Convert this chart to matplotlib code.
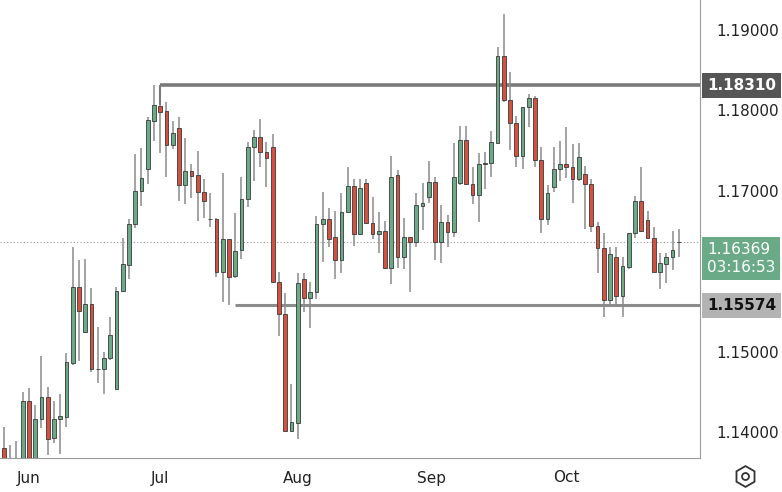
import numpy as np
import matplotlib
matplotlib.use("Agg")
import matplotlib.pyplot as plt
from matplotlib.patches import Rectangle

# daily OHLC
opens = [1.13797, 1.1362, 1.1360, 1.1366, 1.14385, 1.1368, 1.14162, 1.14435, 1.13929, 1.14162,
         1.14191, 1.14862, 1.15799, 1.15248, 1.15592, 1.14787, 1.14779, 1.14924, 1.14531, 1.15749,
         1.16077, 1.16583, 1.16997, 1.17271, 1.17872, 1.18059, 1.17992, 1.17570, 1.17777, 1.17072,
         1.17246, 1.17196, 1.16989, 1.16645, 1.16645, 1.15994, 1.16396, 1.15940, 1.16264, 1.16894,
         1.17541, 1.17665, 1.17478, 1.17549, 1.15870, 1.15463, 1.14016, 1.14116, 1.15899, 1.15671,
         1.15737, 1.16583, 1.16645, 1.16421, 1.16139, 1.16732, 1.17060, 1.16463, 1.17101, 1.16595,
         1.16458, 1.16504, 1.16044, 1.17196, 1.16172, 1.16421, 1.16367, 1.16815, 1.16919, 1.17113,
         1.16359, 1.16608, 1.16492, 1.17093, 1.17632, 1.17081, 1.16948, 1.17330, 1.17342, 1.17599,
         1.18681, 1.18130, 1.17848, 1.17437, 1.18038, 1.18150, 1.17383, 1.16645, 1.17052, 1.17267,
         1.17329, 1.17300, 1.17143, 1.17209, 1.17081, 1.16562, 1.16285, 1.15642, 1.16181, 1.15696,
         1.16048, 1.16471, 1.16873, 1.16637, 1.16409, 1.15986, 1.16090, 1.16173, 1.16360]
closes = [1.1365, 1.1366, 1.1366, 1.14385, 1.1366, 1.14162, 1.14435, 1.13913, 1.14162, 1.14199,
          1.14866, 1.15799, 1.15509, 1.15592, 1.14779, 1.14779, 1.14924, 1.15206, 1.15758, 1.16085,
          1.16587, 1.16997, 1.17163, 1.17876, 1.18067, 1.17984, 1.17570, 1.17715, 1.17072, 1.17246,
          1.17188, 1.16989, 1.16877, 1.16650, 1.15994, 1.16396, 1.15932, 1.16251, 1.16894, 1.17549,
          1.17665, 1.17478, 1.17404, 1.15870, 1.15463, 1.14016, 1.14120, 1.15849, 1.15671, 1.15745,
          1.16587, 1.16645, 1.16396, 1.16139, 1.16740, 1.17060, 1.16463, 1.17039, 1.16595, 1.16458,
          1.16504, 1.16036, 1.17176, 1.16172, 1.16421, 1.16367, 1.16823, 1.16844, 1.17113, 1.16359,
          1.16608, 1.16492, 1.17176, 1.17632, 1.17081, 1.16948, 1.17334, 1.17350, 1.17603, 1.18681,
          1.18130, 1.17848, 1.17437, 1.18038, 1.18150, 1.17383, 1.16645, 1.16969, 1.17267, 1.17329,
          1.17300, 1.17143, 1.17425, 1.17081, 1.16562, 1.16285, 1.15642, 1.16214, 1.15696, 1.16065,
          1.16471, 1.16873, 1.16504, 1.16409, 1.15986, 1.16098, 1.16181, 1.16264, 1.16369]
highs = [1.14066, 1.13838, 1.13892, 1.14493, 1.14543, 1.14336, 1.14949, 1.14564, 1.14390, 1.14472,
         1.14978, 1.16305, 1.16139, 1.16147, 1.15787, 1.15302, 1.14999, 1.15434, 1.15808, 1.16409,
         1.16645, 1.17458, 1.17536, 1.17914, 1.18310, 1.18067, 1.18108, 1.17872, 1.17914, 1.17652,
         1.17329, 1.17499, 1.17143, 1.16968, 1.16657, 1.17217, 1.16396, 1.16720, 1.17167, 1.17611,
         1.17756, 1.17889, 1.17611, 1.17702, 1.15986, 1.15725, 1.14597, 1.15973, 1.15973, 1.15870,
         1.16686, 1.16989, 1.16790, 1.16749, 1.16968, 1.17300, 1.17147, 1.17147, 1.17147, 1.16927,
         1.16740, 1.16624, 1.17433, 1.17259, 1.16657, 1.16421, 1.16968, 1.17093, 1.17371, 1.17176,
         1.16823, 1.16699, 1.17599, 1.17806, 1.17806, 1.17300, 1.17466, 1.17479, 1.17748, 1.18785,
         1.19199, 1.18482, 1.17931, 1.18038, 1.18204, 1.18179, 1.17549, 1.17072, 1.17549, 1.17620,
         1.17790, 1.17582, 1.17591, 1.17309, 1.17143, 1.16616, 1.16479, 1.16297, 1.16297, 1.16181,
         1.16471, 1.16935, 1.17292, 1.16753, 1.16554, 1.16231, 1.16231, 1.16500, 1.16521]
lows = [1.1360, 1.1355, 1.1350, 1.1360, 1.1358, 1.1362, 1.14045, 1.13714, 1.13859, 1.13726,
        1.14058, 1.14833, 1.14887, 1.15235, 1.14750, 1.14605, 1.14468, 1.14895, 1.14531, 1.15741,
        1.15899, 1.16541, 1.16811, 1.17084, 1.17623, 1.17474, 1.17176, 1.17516, 1.16877, 1.16832,
        1.16906, 1.16628, 1.16657, 1.16554, 1.15924, 1.15621, 1.15574, 1.15911, 1.16147, 1.16794,
        1.17122, 1.17300, 1.17043, 1.15870, 1.15194, 1.14016, 1.14016, 1.13913, 1.15497, 1.15289,
        1.15650, 1.16118, 1.16305, 1.15903, 1.15982, 1.16732, 1.16317, 1.16463, 1.16587, 1.16400,
        1.16222, 1.16027, 1.15837, 1.16036, 1.16023, 1.15745, 1.16297, 1.16512, 1.16844, 1.16139,
        1.16098, 1.16305, 1.16429, 1.17072, 1.17072, 1.16832, 1.16608, 1.17018, 1.17168, 1.17591,
        1.18109, 1.17508, 1.17300, 1.17271, 1.17790, 1.17300, 1.16471, 1.16575, 1.16989, 1.17126,
        1.17155, 1.16844, 1.17126, 1.16525, 1.16484, 1.15982, 1.15435, 1.15580, 1.15580, 1.15435,
        1.16023, 1.16409, 1.16492, 1.16397, 1.15986, 1.15775, 1.15858, 1.16015, 1.16181]

month_labels = ["Jun", "Jul", "Aug", "Sep", "Oct"]
month_pos = [4, 25, 47, 68.5, 90]
price_ticks = [1.14, 1.15, 1.16, 1.17, 1.18, 1.19]
resistance, res_start = 1.18310, 25
support, sup_start = 1.15574, 37
last_price = 1.16369
countdown = "03:16:53"

GREEN, RED = "#6aaa86", "#d4503f"
fig = plt.figure(figsize=(7.82, 4.92), dpi=100)
ax = fig.add_axes([0, 1 - 458 / 492, 700 / 782, 458 / 492])
n = len(opens)
x = np.arange(n)
for i in range(n):
    o, c = opens[i], closes[i]
    col = GREEN if c >= o else RED
    ax.vlines(x[i], lows[i], highs[i], color="#8a8a8a", lw=1.1, zorder=2)
    ax.add_patch(Rectangle((x[i] - 0.3, min(o, c)), 0.6, max(abs(c - o), 0.00004),
                           facecolor=col, edgecolor="#3a3a3a", lw=0.6, zorder=3))

xmax = 111.4
ax.hlines(resistance, res_start, xmax, color="#7a7a7a", lw=2.6, zorder=1)
ax.vlines(res_start, highs[res_start], resistance, color="#7a7a7a", lw=1.5)
ax.hlines(support, sup_start, xmax, color="#8c8c8c", lw=2.2, zorder=1)
ax.axhline(last_price, color="#9a9a9a", lw=0.8, ls=(0, (1, 2)), zorder=0)

ax.set_xlim(-0.64, xmax)
ax.set_ylim(1.13677, 1.19373)
ax.set_xticks(month_pos)
ax.set_xticklabels(month_labels, fontsize=11, color="#222")
ax.yaxis.tick_right()
ax.set_yticks(price_ticks)
ax.set_yticklabels([f"{p:.5f}" for p in price_ticks], fontsize=11, color="#222")
ax.tick_params(axis="y", length=0, pad=12)
ax.tick_params(axis="x", length=0, pad=9)
for s in ["top", "left"]:
    ax.spines[s].set_visible(False)
for s in ["bottom", "right"]:
    ax.spines[s].set_color("#9a9a9a")

tr = ax.get_yaxis_transform()
box = dict(boxstyle="square,pad=0.3", lw=0)
ax.text(1.01, resistance, f"{resistance:.5f}", transform=tr, va="center", ha="left",
        fontsize=11, color="white", fontweight="bold",
        bbox=dict(box, facecolor="#555555"))
ax.text(1.01, support, f"{support:.5f}", transform=tr, va="center", ha="left",
        fontsize=11, color="#111", fontweight="bold", bbox=dict(box, facecolor="#b3b3b3"))
ax.text(1.01, last_price, f"{last_price:.5f}\n{countdown}", transform=tr, va="top",
        ha="left", fontsize=11, color="white", linespacing=1.3,
        bbox=dict(box, facecolor="#6aaa86"))

# settings icon
gx, gy = 745 / 782, 1 - 476 / 492
ax.plot([gx], [gy], marker="h", ms=15, mfc="none", mec="#333", mew=1.3,
        transform=fig.transFigure, clip_on=False)
ax.plot([gx], [gy], marker="o", ms=5, mfc="none", mec="#333", mew=1.3,
        transform=fig.transFigure, clip_on=False)
fig.savefig("out.png", dpi=100)
